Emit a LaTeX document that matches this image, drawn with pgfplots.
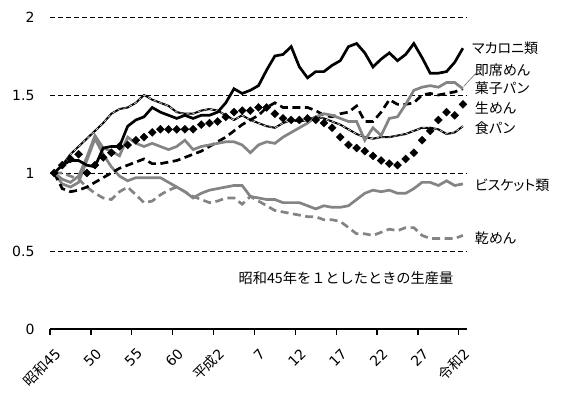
\documentclass[border=0pt]{standalone}
\usepackage{pgfplots}
\pgfplotsset{compat=1.18}
\usepackage{pgfplotstable}
\usepackage{fontspec}
\setmainfont{DejaVu Sans}
\newfontfamily\cjk[RawFeature=+palt]{Noto Sans CJK JP}
\newfontfamily\cjkf{Noto Sans CJK JP}
\definecolor{sgray}{RGB}{132,132,132}

\pgfplotstableread{
x    mac  soku kashi nama shoku bis  kan
0.5  1.00 1.00 1.00  1.00 1.00  1.00 1.00
1.5  1.05 0.96 0.90  1.05 1.05  0.93 1.00
2.5  1.08 0.94 0.88  1.09 1.12  0.91 0.98
3.5  1.08 0.98 0.89  1.12 1.17  0.94 0.96
4.5  1.05 1.10 0.91  1.00 1.22  1.08 0.91
5.5  1.04 1.24 0.94  1.05 1.27  1.22 0.87
6.5  1.16 1.16 0.97  1.10 1.32  1.12 0.84
7.5  1.17 1.14 1.00  1.13 1.38  1.04 0.83
8.5  1.17 1.11 1.03  1.17 1.41  0.98 0.88
9.5  1.30 1.23 1.05  1.18 1.42  0.95 0.91
10.5 1.34 1.19 1.07  1.21 1.45  0.97 0.86
11.5 1.36 1.17 1.09  1.23 1.50  0.97 0.81
12.5 1.42 1.19 1.06  1.26 1.47  0.97 0.82
13.5 1.39 1.17 1.06  1.28 1.45  0.97 0.86
14.5 1.37 1.15 1.07  1.28 1.43  0.94 0.89
15.5 1.35 1.17 1.08  1.28 1.39  0.91 0.91
16.5 1.37 1.21 1.10  1.28 1.38  0.88 0.88
17.5 1.35 1.15 1.12  1.28 1.38  0.84 0.85
18.5 1.37 1.17 1.14  1.31 1.40  0.87 0.83
19.5 1.37 1.18 1.17  1.32 1.41  0.89 0.81
20.5 1.39 1.19 1.20  1.33 1.40  0.90 0.82
21.5 1.45 1.20 1.23  1.36 1.37  0.91 0.84
22.5 1.54 1.20 1.27  1.39 1.34  0.92 0.84
23.5 1.51 1.18 1.31  1.40 1.37  0.92 0.80
24.5 1.53 1.13 1.34  1.40 1.34  0.85 0.85
25.5 1.56 1.18 1.37  1.42 1.32  0.84 0.82
26.5 1.66 1.20 1.42  1.42 1.30  0.83 0.79
27.5 1.75 1.19 1.45  1.38 1.29  0.83 0.76
28.5 1.76 1.23 1.42  1.35 1.32  0.81 0.75
29.5 1.81 1.26 1.42  1.34 1.34  0.81 0.74
30.5 1.68 1.29 1.42  1.34 1.33  0.81 0.73
31.5 1.61 1.32 1.42  1.35 1.34  0.79 0.72
32.5 1.65 1.36 1.40  1.34 1.36  0.77 0.72
33.5 1.65 1.38 1.37  1.32 1.35  0.79 0.70
34.5 1.69 1.37 1.36  1.29 1.33  0.78 0.70
35.5 1.72 1.35 1.38  1.23 1.31  0.78 0.69
36.5 1.81 1.33 1.39  1.18 1.28  0.79 0.65
37.5 1.83 1.33 1.43  1.16 1.25  0.83 0.61
38.5 1.77 1.21 1.33  1.14 1.23  0.87 0.61
39.5 1.68 1.29 1.33  1.11 1.22  0.89 0.60
40.5 1.73 1.24 1.39  1.08 1.23  0.88 0.62
41.5 1.77 1.35 1.47  1.06 1.23  0.89 0.64
42.5 1.72 1.36 1.44  1.05 1.24  0.87 0.63
43.5 1.76 1.44 1.44  1.09 1.25  0.87 0.65
44.5 1.83 1.53 1.45  1.13 1.27  0.90 0.65
45.5 1.74 1.55 1.50  1.21 1.29  0.94 0.60
46.5 1.64 1.56 1.51  1.27 1.29  0.94 0.58
47.5 1.64 1.55 1.50  1.34 1.28  0.92 0.58
48.5 1.65 1.58 1.51  1.39 1.25  0.95 0.58
49.5 1.71 1.58 1.52  1.37 1.26  0.92 0.58
50.5 1.80 1.54 1.54  1.44 1.30  0.93 0.60
}\data

\begin{document}
\begin{tikzpicture}
\path[use as bounding box] (-50pt,-76pt) rectangle (517pt,329pt);
\begin{axis}[
  at={(0pt,0pt)}, anchor=south west,
  scale only axis, width=417pt, height=312pt,
  xmin=0, xmax=51, ymin=0, ymax=2, clip=false,
  axis x line*=bottom, axis y line*=left,
  y axis line style={draw=none},
  x axis line style={-, line width=1.3pt, black},
  xtick={0,5,...,50},
  xticklabels={{\cjk 昭和}45,50,55,60,{\cjk 平成}2,7,12,17,22,27,{\cjk 令和}2},
  xtick align=outside,
  x tick style={black, line width=1.3pt},
  major tick length=6pt,
  ytick={0,0.5,1,1.5,2},
  yticklabels={0,0.5,1,1.5,2},
  y tick style={draw=none},
  ymajorgrids,
  grid style={black, line width=0.9pt, dash pattern=on 5pt off 3pt},
  tick label style={font=\fontsize{14}{16}\selectfont},
  yticklabel style={xshift=-12pt},
  xticklabel style={anchor=east, inner sep=0pt, xshift=8pt, yshift=-16pt, rotate=45},
]
\addplot[sgray, line width=2.7pt, dash pattern=on 8pt off 4.5pt] table[x=x,y=kan] {\data};
\addplot[sgray, line width=2.7pt] table[x=x,y=bis] {\data};
\addplot[black, line width=2pt] table[x=x,y=shoku] {\data};
\addplot[white!70!gray, line width=0.7pt, dash pattern=on 3pt off 3pt] table[x=x,y=shoku] {\data};
\addplot[only marks, mark=square*, mark size=2.8pt, mark options={rotate=45, black, fill=black}] table[x=x,y=nama] {\data};
\addplot[black, line width=2.7pt, dash pattern=on 8pt off 4.5pt] table[x=x,y=kashi] {\data};
\addplot[sgray, line width=2.7pt] table[x=x,y=soku] {\data};
\addplot[black, line width=2.7pt] table[x=x,y=mac] {\data};

\draw[sgray, line width=0.8pt] (axis cs:50.6,1.555) -- (axis cs:52.1,1.64);
\begin{scope}[every node/.style={anchor=west, inner sep=0pt, font=\cjk\fontsize{14}{16}\selectfont}]
\node at (axis cs:51.6,1.80) {マカロニ類};
\node at (axis cs:51.95,1.66) {即席めん};
\node at (axis cs:51.95,1.545) {菓子パン};
\node at (axis cs:51.95,1.42) {生めん};
\node at (axis cs:51.95,1.29) {食パン};
\node at (axis cs:51.95,0.92) {ビスケット類};
\node at (axis cs:51.95,0.58) {乾めん};
\node[anchor=center, font=\cjkf\fontsize{14.2}{16}\selectfont] at (axis cs:36.2,0.327) {昭和45年を１としたときの生産量};
\end{scope}
\end{axis}
\end{tikzpicture}
\end{document}
